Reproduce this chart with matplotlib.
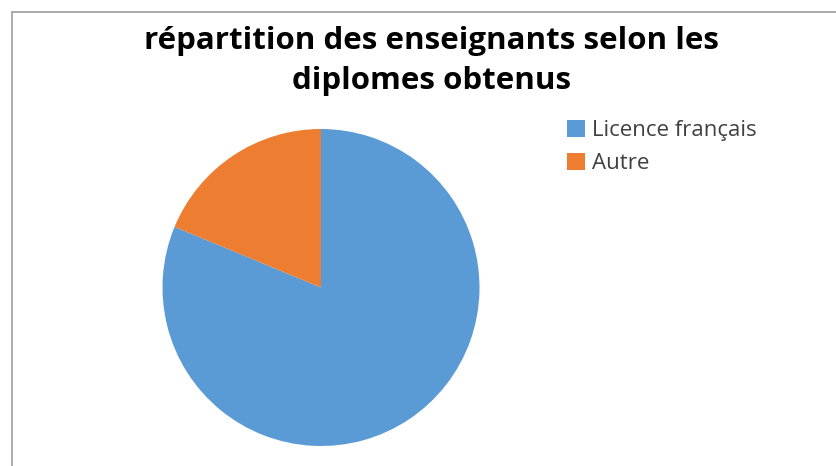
import matplotlib.pyplot as plt
from matplotlib.lines import Line2D

# data
labels = ['Licence français', 'Autre']
values = [81.25, 18.75]
colors = ['#5B9BD5', '#ED7D31']
title = 'répartition des enseignants selon les\ndiplomes obtenus'

W, H = 836, 466
fig = plt.figure(figsize=(W / 100, H / 100), dpi=100)

# pie axes: center (321, 287.5) px, radius ~158.5 px
cx, cy, r = 321, 287.5, 158.5
ax = fig.add_axes([(cx - r) / W, (H - cy - r) / H, 2 * r / W, 2 * r / H])
wedges, _ = ax.pie(values, colors=colors, startangle=90, counterclock=False,
                   wedgeprops=dict(linewidth=0))
ax.set_xlim(-1, 1)
ax.set_ylim(-1, 1)
ax.set_aspect('equal')
ax.axis('off')

# title
fig.text(432 / W, 1 - 61 / H, title, ha='center', va='center',
         fontsize=22.5, fontweight='bold', family='Open Sans',
         linespacing=1.45, color='black')

# legend
fig.legend(wedges, labels, loc='upper left',
           bbox_to_anchor=(556 / W, 1 - 109 / H), frameon=False,
           prop={'family': 'Open Sans', 'size': 16},
           handlelength=0.8, handleheight=0.8, handletextpad=0.3,
           labelspacing=0.52, labelcolor='#404040', borderpad=0)

# chart border (left and top only visible)
bx, by = 11.5 / W, 1 - 11.5 / H
fig.add_artist(Line2D([bx, bx], [0, by], color='#a6a6a6', lw=1.3,
                      transform=fig.transFigure))
fig.add_artist(Line2D([bx, 1], [by, by], color='#a6a6a6', lw=1.3,
                      transform=fig.transFigure))

fig.savefig('out.png', dpi=100)
